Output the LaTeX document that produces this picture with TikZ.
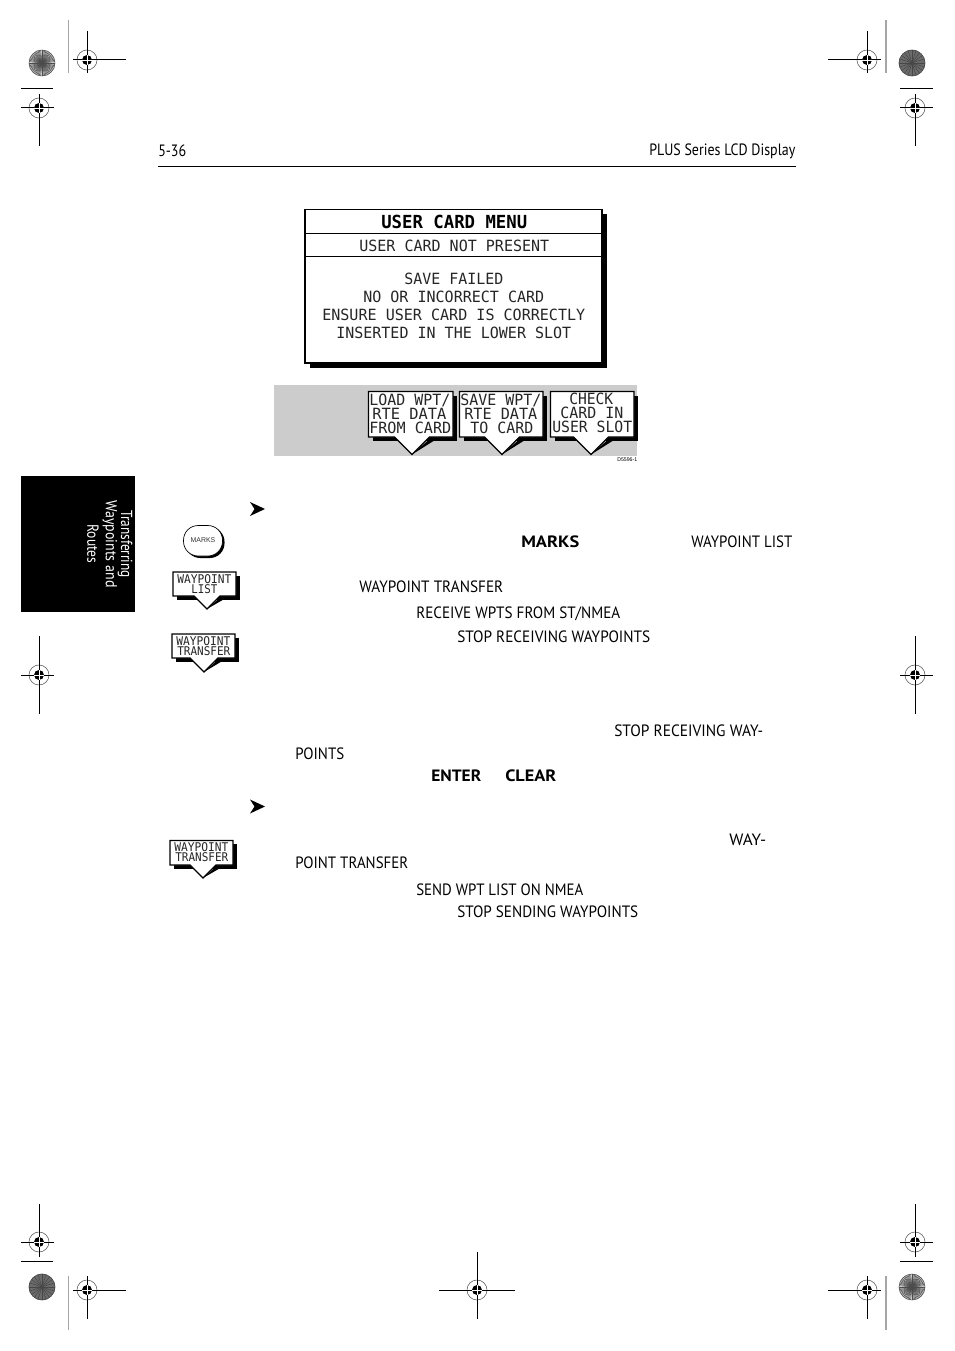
\documentclass[tikz,border=0pt]{standalone}
\usepackage{graphicx}
\usepackage{fontspec}
\setmainfont{PT Sans}
\newfontfamily\lcdfont{DejaVu Sans Mono}
\newfontfamily\btnfont{Liberation Sans}
\newlength\pxu \setlength\pxu{0.75pt}
\newcommand{\lab}[6]{\node[#5] (#1) at (#2,#3) {\resizebox{#4\pxu}{\height}{#6}};}
\tikzset{
  txt/.style={anchor=west,inner sep=0pt,yshift=-0.4pt,font=\fontsize{12.3}{14}\selectfont,text=black},
  txtb/.style={txt,font=\fontsize{12.3}{14}\selectfont\bfseries},
  lcd/.style={anchor=west,inner sep=0pt,font=\lcdfont\fontsize{11.6}{13}\selectfont,text=black!85},
  lcdt/.style={anchor=west,inner sep=0pt,font=\lcdfont\bfseries\fontsize{13.5}{15}\selectfont,text=black},
  sk/.style={anchor=west,inner sep=0pt,font=\lcdfont\fontsize{11.6}{13}\selectfont,text=black!85},
  ssk/.style={anchor=west,inner sep=0pt,font=\lcdfont\fontsize{9}{10}\selectfont,text=black!85},
  regline/.style={black,line width=0.75pt},
  regring/.style={black!65,line width=0.4pt},
  trimline/.style={black!35,line width=0.9pt},
  rule/.style={black,line width=0.7pt},
  tabtxt/.style={rotate=-90,anchor=center,inner sep=0pt,font=\fontsize{12}{14}\selectfont,text=white},
  arrowmark/.style={fill=black,draw=none},
}
\newcommand{\regmark}[7]{% x y hleft hright vtop vbot name
  \coordinate (#7) at (#1,#2);
  \draw[regring] (#7) circle (10);
  \fill[black] (#7) circle (5);
  \draw[white,line width=0.5pt] (#1-5,#2) -- (#1+5,#2) (#1,#2-5) -- (#1,#2+5);
  \draw[regline] (#3,#2) -- (#1-5,#2) (#1+5,#2) -- (#4,#2);
  \draw[regline] (#1,#5) -- (#1,#2-5) (#1,#2+5) -- (#1,#6);
}
\newcommand{\burstlight}[2]{% x y
  \fill[black!12] (#1,#2) circle (13.2);
  \foreach \a in {0,6,...,354}{
    \draw[black!70,line width=0.4pt] (#1,#2) -- ++(\a:13);
  }
  \draw[black!65,line width=0.4pt] (#1,#2) circle (13);
}
\newcommand{\burstdark}[2]{% x y
  \fill[black!58] (#1,#2) circle (13.2);
  \foreach \a in {0,18,...,342}{
    \draw[black!72,line width=0.4pt] (#1,#2) -- ++(\a:13);
  }
  \draw[black!72,line width=0.4pt] (#1,#2) circle (13);
}
\newcommand{\softkey}[7]{% x1 y1 x2 y2 tipx tipy shadow
  \pgfmathsetmacro{\hw}{#6-#4}
  \fill[black,shift={(#7,#7)}] (#1,#2) rectangle (#3,#4);
  \fill[black] (#5,#6) -- (#5+\hw+#7,#4+#7) -- (#5+\hw-2,#4+#7) -- cycle;
  \draw[black,fill=white,line width=0.9pt,line join=miter] (#1,#2) -- (#3,#2) -- (#3,#4) -- (#5+\hw,#4) -- (#5,#6) -- (#5-\hw,#4) -- (#1,#4) -- cycle;
}
\begin{document}
\begin{tikzpicture}[x=0.75pt,y=-0.75pt]
\useasboundingbox (0,0) rectangle (954,1351);
\fill[white] (0,0) rectangle (954,1351);

% trim lines
\draw[trimline] (68.5,20) -- (68.5,73);
\draw[trimline] (886,20) -- (886,73);
\draw[trimline] (68.5,1276) -- (68.5,1330);
\draw[trimline] (886,1276) -- (886,1330);
\draw[regline] (21,89) -- (53,89);
\draw[regline] (900,89) -- (933,89);
\draw[regline] (21,1261) -- (53,1261);
\draw[regline] (900,1261) -- (933,1261);

% registration marks
\regmark{87}{60}{73}{126}{31}{73}{ra}
\regmark{867}{60}{828}{881}{31}{73}{rb}
\regmark{39}{108}{21}{54}{94}{146}{rc}
\regmark{915}{108}{900}{933}{94}{146}{rd}
\regmark{39}{675}{21}{54}{636}{714}{re}
\regmark{915}{675}{900}{933}{636}{714}{rf}
\regmark{39}{1242}{21}{54}{1204}{1257}{rg}
\regmark{915}{1242}{900}{933}{1204}{1257}{rh}
\regmark{87}{1290}{73}{126}{1276}{1319}{ri}
\regmark{867}{1290}{828}{881}{1276}{1319}{rj}
\regmark{477}{1290}{439}{515}{1252}{1319}{rk}

% colour bars
\burstlight{42}{63}
\burstdark{912}{63}
\burstdark{42}{1287}
\burstlight{912}{1287}

% header
\lab{pg}{158}{150.5}{28}{txt}{5-36}
\lab{hd}{649}{150.5}{146}{txt}{PLUS Series LCD Display}
\draw[rule] (158,166.5) -- (796,166.5);

% LCD window
\fill[black] (310,214) rectangle (607,368);
\draw[black,fill=white,line width=1pt] (305,209.5) rectangle (602,363);
\draw[black,line width=0.9pt] (305,233.5) -- (602,233.5);
\draw[black,line width=0.9pt] (305,256.5) -- (602,256.5);
\lab{ti}{381}{222}{146}{lcdt}{USER CARD MENU}
\lab{st}{359}{246}{190}{lcd}{USER CARD NOT PRESENT}
\lab{l1}{404}{279}{99}{lcd}{SAVE FAILED}
\lab{l2}{363}{297}{181}{lcd}{NO OR INCORRECT CARD}
\lab{l3}{322}{315}{263}{lcd}{ENSURE USER CARD IS CORRECTLY}
\lab{l4}{336}{333}{235}{lcd}{INSERTED IN THE LOWER SLOT}

% soft key band
\fill[black!20] (274,385) rectangle (637,456);
\softkey{368.5}{391.5}{453}{437}{412}{454.5}{4}
\softkey{459.5}{391.5}{543}{437}{502}{454.5}{4}
\softkey{550.5}{391.5}{634}{437}{591}{454.5}{4}
\lab{k1a}{369}{400}{81}{sk}{LOAD WPT/}
\lab{k1b}{372}{414}{74}{sk}{RTE DATA}
\lab{k1c}{369}{428}{82}{sk}{FROM CARD}
\lab{k2a}{460}{400}{81}{sk}{SAVE WPT/}
\lab{k2b}{464}{414}{73}{sk}{RTE DATA}
\lab{k2c}{470}{428}{63}{sk}{TO CARD}
\lab{k3a}{569}{398.5}{44}{sk}{CHECK}
\lab{k3b}{560}{412.5}{63}{sk}{CARD IN}
\lab{k3c}{552}{426.5}{80}{sk}{USER SLOT}
\node[anchor=west,inner sep=0pt,font=\btnfont\fontsize{4}{5}\selectfont] (code) at (617,460) {\resizebox{20\pxu}{\height}{D5596-1}};

% side tab
\fill[black] (21,476) rectangle (135,612);
\node[tabtxt] (tab1) at (125,544) {\resizebox{68\pxu}{\height}{Transferring}};
\node[tabtxt] (tab2) at (110,544) {\resizebox{87\pxu}{\height}{Waypoints and}};
\node[tabtxt] (tab3) at (93,544) {\resizebox{39\pxu}{\height}{Routes}};

% bullet arrows
\fill[arrowmark] (265,509) -- (250,502) -- (254.5,509) -- (250,516) -- cycle;
\fill[arrowmark] (265,806.5) -- (250,799.5) -- (254.5,806.5) -- (250,813.5) -- cycle;

% MARKS button
\fill[black,rounded corners=11pt] (185.5,527) rectangle (224.5,558);
\draw[black,fill=white,line width=0.5pt,rounded corners=11pt] (183.5,525.5) rectangle (222.5,556);
\node[inner sep=0pt,font=\btnfont\fontsize{5.2}{6}\selectfont,text=black!80] (mk) at (203,540.5) {MARKS};

% small soft keys
\softkey{173}{572}{236}{596}{207}{609}{3.5}
\softkey{172}{634}{235}{658}{204}{672}{3.5}
\softkey{170}{840.5}{233}{865}{203}{878}{3.5}
\lab{s1a}{177}{579.5}{54}{ssk}{WAYPOINT}
\lab{s1b}{191}{589.5}{26}{ssk}{LIST}
\lab{s2a}{176}{641}{54}{ssk}{WAYPOINT}
\lab{s2b}{177}{651}{53}{ssk}{TRANSFER}
\lab{s3a}{174}{847}{54}{ssk}{WAYPOINT}
\lab{s3b}{175}{857}{53}{ssk}{TRANSFER}

% body text
\lab{b1}{521}{541}{58}{txtb}{MARKS}
\lab{b2}{691}{541}{101}{txt}{WAYPOINT LIST}
\lab{b3}{359}{586}{144}{txt}{WAYPOINT TRANSFER}
\lab{b4}{416}{613}{204}{txt}{RECEIVE WPTS FROM ST/NMEA}
\lab{b5}{457}{636}{193}{txt}{STOP RECEIVING WAYPOINTS}
\lab{b6}{614}{730}{149}{txt}{STOP RECEIVING WAY-}
\lab{b7}{295}{753}{49}{txt}{POINTS}
\lab{b8}{431}{775}{50}{txtb}{ENTER}
\lab{b9}{505}{775}{51}{txtb}{CLEAR}
\lab{b10}{729}{839}{37}{txt}{WAY-}
\lab{b11}{295}{862}{113}{txt}{POINT TRANSFER}
\lab{b12}{416}{889}{167}{txt}{SEND WPT LIST ON NMEA}
\lab{b13}{457}{911}{181}{txt}{STOP SENDING WAYPOINTS}
\end{tikzpicture}
\end{document}
